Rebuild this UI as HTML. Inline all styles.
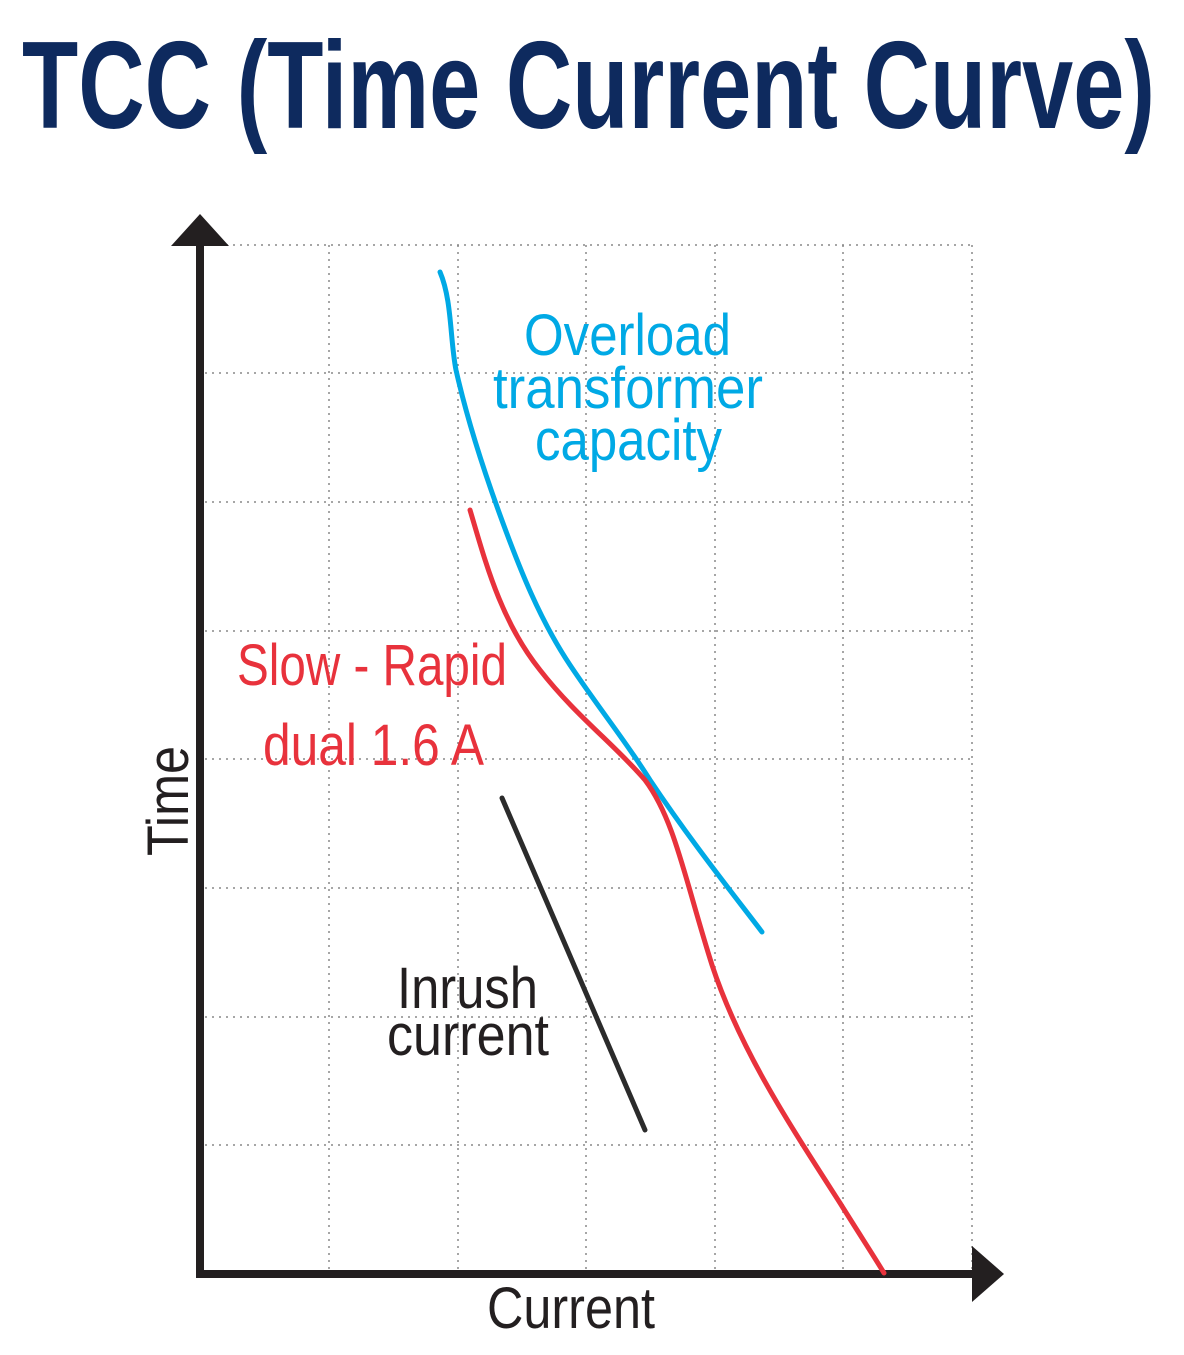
<!DOCTYPE html>
<html><head><style>
html,body{margin:0;padding:0;background:#fff;}
svg{display:block;}
text{font-family:"Liberation Sans Narrow","Liberation Sans",sans-serif;}
</style></head><body>
<svg width="1184" height="1355" viewBox="0 0 1184 1355" xmlns="http://www.w3.org/2000/svg">
<text x="22" y="128" font-size="124" font-weight="bold" fill="#0e2a5e" textLength="1133" lengthAdjust="spacingAndGlyphs">TCC (Time Current Curve)</text>
<g stroke="#888" stroke-width="1.5" stroke-dasharray="2,5" fill="none">
<line x1="205" y1="245" x2="972" y2="245"/>
<line x1="205" y1="373" x2="972" y2="373"/>
<line x1="205" y1="502" x2="972" y2="502"/>
<line x1="205" y1="631" x2="972" y2="631"/>
<line x1="205" y1="759" x2="972" y2="759"/>
<line x1="205" y1="888" x2="972" y2="888"/>
<line x1="205" y1="1017" x2="972" y2="1017"/>
<line x1="205" y1="1145" x2="972" y2="1145"/>
<line x1="329" y1="245" x2="329" y2="1270"/>
<line x1="458" y1="245" x2="458" y2="1270"/>
<line x1="586" y1="245" x2="586" y2="1270"/>
<line x1="715" y1="245" x2="715" y2="1270"/>
<line x1="843" y1="245" x2="843" y2="1270"/>
<line x1="972" y1="245" x2="972" y2="1270"/>
</g>
<line x1="200" y1="240" x2="200" y2="1278" stroke="#231f20" stroke-width="8"/>
<line x1="196" y1="1274" x2="975" y2="1274" stroke="#231f20" stroke-width="8"/>
<polygon points="200,214 229,246 171,246" fill="#231f20"/>
<polygon points="1004,1274 972,1246 972,1302" fill="#231f20"/>
<path d="M440,272 C452,300 450,340 456,370 C465,410 480,460 500,515 C520,570 540,620 570,665 C600,710 625,740 650,780 C690,840 730,890 762,932" fill="none" stroke="#00a9e5" stroke-width="5" stroke-linecap="round"/>
<path d="M470,510 C485,560 500,620 540,670 C575,715 615,745 645,780 C675,820 685,880 712,965 C740,1050 790,1125 840,1203 C860,1235 875,1258 884,1273" fill="none" stroke="#e8323c" stroke-width="5" stroke-linecap="round"/>
<line x1="502" y1="798" x2="645" y2="1130" stroke="#2b2b2b" stroke-width="5" stroke-linecap="round"/>
<g font-size="58" fill="#00a9e5">
<text x="524" y="355" textLength="207" lengthAdjust="spacingAndGlyphs">Overload</text>
<text x="493" y="408" textLength="270" lengthAdjust="spacingAndGlyphs">transformer</text>
<text x="535" y="460" textLength="187" lengthAdjust="spacingAndGlyphs">capacity</text>
</g>
<text x="237" y="685" font-size="58" fill="#e8323c" textLength="270" lengthAdjust="spacingAndGlyphs">Slow - Rapid</text>
<text x="263" y="765" font-size="58" fill="#e8323c" textLength="221" lengthAdjust="spacingAndGlyphs">dual 1.6 A</text>
<text x="397" y="1008" font-size="58" fill="#231f20" textLength="141" lengthAdjust="spacingAndGlyphs">Inrush</text>
<text x="387" y="1055" font-size="58" fill="#231f20" textLength="162" lengthAdjust="spacingAndGlyphs">current</text>
<text x="487" y="1328" font-size="58" fill="#231f20" textLength="168" lengthAdjust="spacingAndGlyphs">Current</text>
<text transform="translate(188,856) rotate(-90)" font-size="58" fill="#231f20" textLength="110" lengthAdjust="spacingAndGlyphs">Time</text>
</svg>
</body></html>
